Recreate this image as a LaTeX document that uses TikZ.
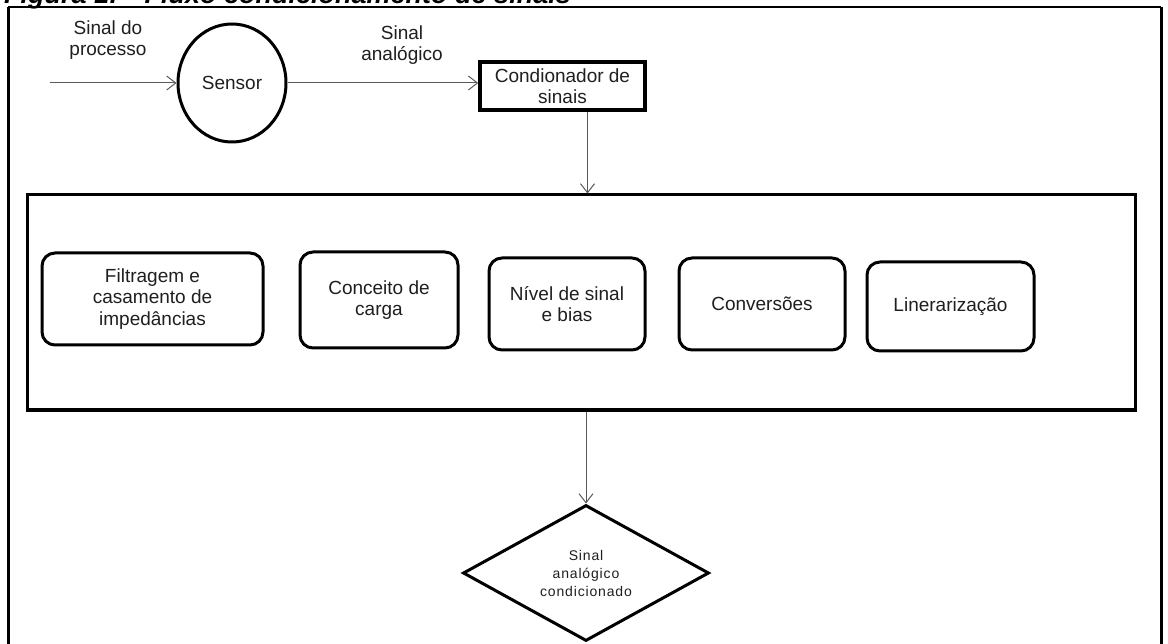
\documentclass[tikz,border=0pt]{standalone}
\usepackage{fontspec}
\setmainfont{Liberation Sans}
\newfontfamily\spacedfont[LetterSpace=6]{Liberation Sans}
\usetikzlibrary{arrows.meta,shapes.geometric}
\begin{document}
\begin{tikzpicture}[x=1pt,y=-1pt,
  txt/.style={font=\fontsize{19}{21.5}\selectfont, align=center, text=black!88},
  arr/.style={draw=black!65, line width=1pt, -{Straight Barb[length=9pt,width=14pt,line width=1pt]}},
  thickbox/.style={draw, line width=3pt, fill=white},
  roundbox/.style={thickbox, rounded corners=13pt, txt, inner sep=2pt}
]
\useasboundingbox (0,0) rectangle (1168,644);
\clip (0,0) rectangle (1168,644);
\fill[white] (0,0) rectangle (1168,644);
% title (clipped at the top, as in the reference)
\node[anchor=base west, inner sep=0, font=\fontsize{27}{30}\selectfont\bfseries\itshape] (title) at (4,4) {Figura 1: - Fluxo condicionamento de sinais};
% outer frame
\draw[line width=3pt] (8,660) -- (8,7);
\draw[line width=1.3pt] (8,7) -- (1161,7);
\draw[line width=3pt] (1161,7) -- (1161,660);
% top row
\node[ellipse, thickbox, minimum width=108pt, minimum height=118pt, inner sep=0, txt] (sensor) at (232,83) {Sensor};
\node[thickbox, line width=3.6pt, minimum width=165pt, minimum height=48pt, txt, inner sep=0] (cond) at (562.5,86) {Condionador de\\sinais};
\coordinate (in) at (50,83);
\node[txt] (lbl1) at (108,40) {Sinal do\\processo};
\node[txt] (lbl2) at (402,45) {Sinal\\analógico};
\draw[arr] (in) -- (sensor.west);
\draw[arr] (sensor.east) -- (sensor.east -| cond.west);
% big rectangle
\node[thickbox, minimum width=1108pt, minimum height=215pt, inner sep=0] (big) at (581,302.5) {};
\draw[arr] ([xshift=25pt]cond.south) -- ([xshift=25pt]cond.south |- big.north);
% inner boxes
\node[roundbox, minimum width=221pt, minimum height=92pt] (b1) at (152.5,299) {Filtragem e\\casamento de\\impedâncias};
\node[roundbox, minimum width=158pt, minimum height=96pt] (b2) at (379,300) {Conceito de\\carga};
\node[roundbox, minimum width=156pt, minimum height=92pt] (b3) at (567,304) {Nível de sinal\\e bias};
\node[roundbox, minimum width=166pt, minimum height=92pt] (b4) at (762,304) {Conversões};
\node[roundbox, minimum width=167pt, minimum height=89pt] (b5) at (950.5,306.5) {Linerarização};
% diamond
\node[diamond, thickbox, minimum width=246pt, minimum height=136pt, aspect=1.81, inner sep=0, align=center, text=black!88, font=\spacedfont\fontsize{14}{18}\selectfont] (dia) at (586,573) {Sinal\\analógico\\condicionado};
\draw[arr] (big.south -| dia.north) -- (dia.north);
\end{tikzpicture}
\end{document}
